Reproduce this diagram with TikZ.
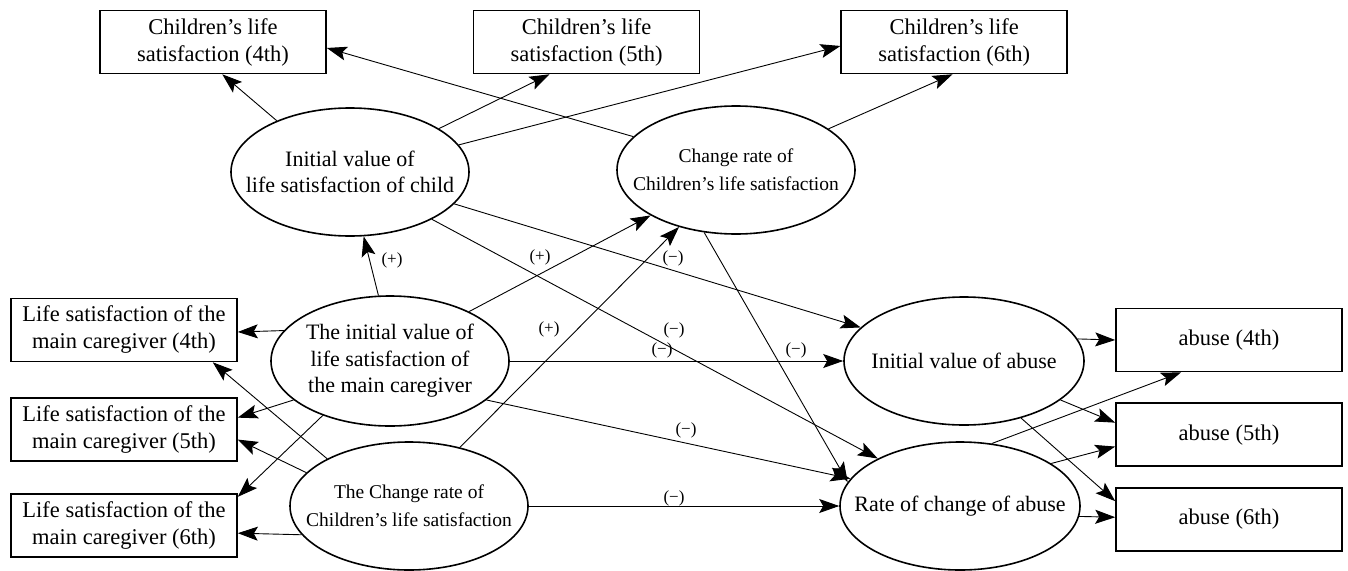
\documentclass[tikz,border=0pt]{standalone}
\usepackage{fontspec}
\setmainfont{Liberation Serif}
\usetikzlibrary{shapes, arrows.meta, positioning}

\begin{document}
\begin{tikzpicture}[x=1pt, y=-1pt,
    box/.style={draw, line width=1.6pt, minimum width=226pt, minimum height=63pt,
      inner sep=0pt, align=center, font=\fontsize{22.5}{27}\selectfont},
    ell/.style={draw, ellipse, line width=1.6pt, minimum width=238pt,
      minimum height=128pt, inner sep=0pt},
    bigtxt/.style={align=center, font=\fontsize{22}{26.5}\selectfont},
    smalltxt/.style={align=center, font=\fontsize{19.5}{28}\selectfont},
    sign/.style={inner sep=0pt, font=\fontsize{17}{19}\selectfont},
    link/.style={-{Stealth[length=20pt, width=14pt, inset=4pt]}, line width=0.9pt}]
    \useasboundingbox (0,0) rectangle (1348,570);

    % observed variables
    \node[box] (lsc4) at (213,42) {Children’s life\\satisfaction (4th)};
    \node[box, right = 146pt of lsc4] (lsc5) {Children’s life\\satisfaction (5th)};
    \node[box, right = 140pt of lsc5] (lsc6) {Children’s life\\satisfaction (6th)};

    \node[box] (lsm4) at (124,330) {Life satisfaction of the\\main caregiver (4th)};
    \node[box, below = 35pt of lsm4] (lsm5) {Life satisfaction of the\\main caregiver (5th)};
    \node[box, below = 31pt of lsm5] (lsm6) {Life satisfaction of the\\main caregiver (6th)};

    \node[box] (ab4) at (1229,340) {abuse (4th)};
    \node[box, below = 30pt of ab4] (ab5) {abuse (5th)};
    \node[box, below = 20pt of ab5] (ab6) {abuse (6th)};

    % latent variables
    \node[ell, label={[bigtxt]center:Initial value of\\life satisfaction of child}] (ivchild) at (350,172) {};
    \node[ell, label={[smalltxt]center:Change rate of\\Children’s life satisfaction}] (crchild) at (736,170) {};
    \node[ell, minimum height=130pt, label={[bigtxt]center:The initial value of\\life satisfaction of\\the main caregiver}] (ivcare) at (390,361) {};
    \node[ell, label={[smalltxt]center:The Change rate of\\Children’s life satisfaction}] (crcare) at (409,506) {};
    \node[ell, minimum width=240pt, label={[bigtxt]center:Initial value of abuse}] (ivabuse) at (964,361) {};
    \node[ell, minimum width=240pt, label={[bigtxt]center:Rate of change of abuse}] (rcabuse) at (960,506) {};

    \draw[link] (ivchild.145) -- (lsc4.-74);
    \draw[link] (ivchild.26)  -- (lsc5.-139);
    \draw[link] (ivchild.14)  -- (lsc6.-178);
    \draw[link] (crchild.162) -- (lsc4.-3);
    \draw[link] (crchild.24)  -- (lsc6.-93);

    \draw[link] (ivcare.164)  -- (lsm4.-1);
    \draw[link] (ivcare.-158) -- (lsm5.6);
    \draw[link] (ivcare.-141) -- (lsm6.14);
    \draw[link] (crcare.150)  -- (lsm4.-20);
    \draw[link] (crcare.162)  -- (lsm5.-5);
    \draw[link] (crcare.-165) -- (lsm6.-4);

    \draw[link] (ivcare.100)   -- (ivchild.-78);
    \draw[link] (ivcare.32)    -- (crchild.-152);
    \draw[link] (crcare.49)    -- (crchild.-135);
    \draw[link] (ivchild.-17)  -- (ivabuse.162);
    \draw[link] (ivchild.-30)  -- (rcabuse.150);
    \draw[link] (crchild.-117) -- (rcabuse.168);
    \draw[link] (ivcare.east)  -- (ivabuse.west);
    \draw[link] (ivcare.-22)   -- (rcabuse.166);
    \draw[link] (crcare.east)  -- (rcabuse.west);

    \draw[link] (ivabuse.11)  -- (ab4.180);
    \draw[link] (ivabuse.-22) -- (ab5.174);
    \draw[link] (ivabuse.-45) -- (ab6.171);
    \draw[link] (rcabuse.63)  -- (ab4.-146);
    \draw[link] (rcabuse.25)  -- (ab5.-174);
    \draw[link] (rcabuse.-5)  -- (ab6.179);

    % signs
    \node[sign] (sgn1) at (392,260) {(+)};
    \node[sign] (sgn2) at (540,257) {(+)};
    \node[sign] (sgn3) at (673,258) {(−)};
    \node[sign] (sgn4) at (549,329) {(+)};
    \node[sign] (sgn5) at (674,330) {(−)};
    \node[sign] (sgn6) at (662,350) {(−)};
    \node[sign] (sgn7) at (796,350) {(−)};
    \node[sign] (sgn8) at (686,430) {(−)};
    \node[sign] (sgn9) at (674,498) {(−)};
\end{tikzpicture}
\end{document}
